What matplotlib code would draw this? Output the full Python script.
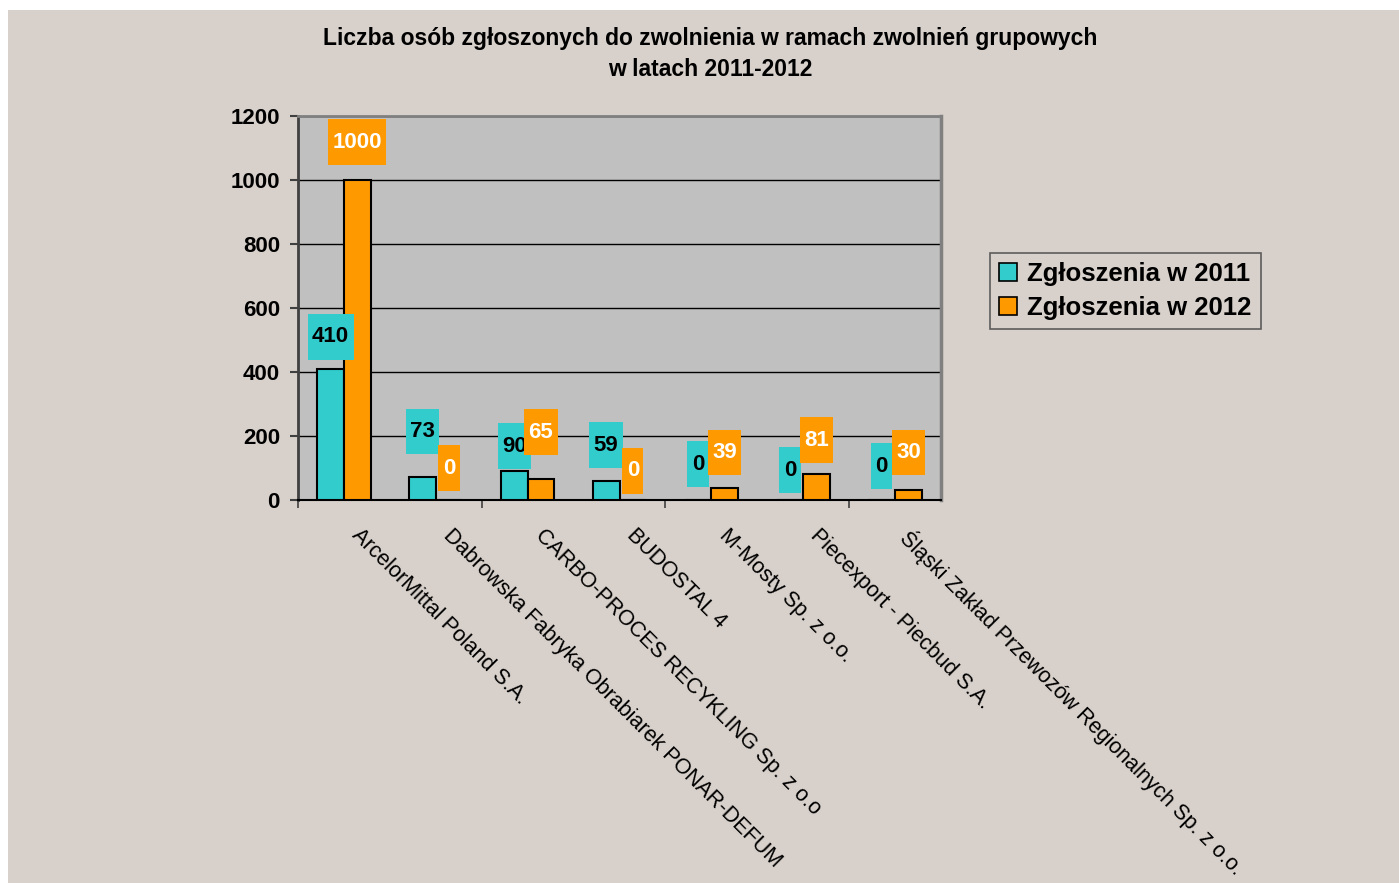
import numpy as np
import matplotlib
matplotlib.use("Agg")
import matplotlib.pyplot as plt
from matplotlib.patches import Rectangle, Patch
from matplotlib.path import Path
from matplotlib.transforms import ScaledTranslation

plt.rcParams["font.family"] = ["Liberation Sans", "DejaVu Sans"]

# data
companies = [
    "ArcelorMittal Poland S.A.",
    "Dabrowska Fabryka Obrabiarek PONAR-DEFUM",
    "CARBO-PROCES RECYKLING Sp. z o.o",
    "BUDOSTAL 4",
    "M-Mosty Sp. z o.o.",
    "Piecexport - Piecbud S.A.",
    "Śląski Zakład Przewozów Regionalnych Sp. z o.o.",
]
values_2011 = [410, 73, 90, 59, 0, 0, 0]
values_2012 = [1000, 0, 65, 0, 39, 81, 30]
series_names = ["Zgłoszenia w 2011", "Zgłoszenia w 2012"]
title = "Liczba osób zgłoszonych do zwolnienia w ramach zwolnień grupowych\nw latach 2011-2012"

# label box offsets above bar tops (pixels), as placed in the original
label_off_2011 = [32, 45, 25, 36, 36, 30, 34]
label_off_2012 = [38, 32, 47, 29, 35, 34, 38]

TEAL = "#33CCCC"
ORANGE = "#FF9900"
BEIGE = "#D8D0CA"
PLOT_BG = "#C0C0C0"


def tall_box(x0, y0, width, height, mutation_size):
    # excel style label box: narrow at the sides, tall above and below
    px = 0.2 * mutation_size
    py = 0.55 * mutation_size
    x0, y0 = x0 - px, y0 - py
    x1, y1 = x0 + width + 2 * px, y0 + height + 2 * py
    return Path([(x0, y0), (x1, y0), (x1, y1), (x0, y1), (x0, y0)], closed=True)


W, H = 1399, 883
fig = plt.figure(figsize=(W / 100, H / 100), dpi=100, facecolor="white")
fig.patches.append(Rectangle((8 / W, 0), 1, 1 - 10 / H, transform=fig.transFigure,
                             facecolor=BEIGE, edgecolor="none", zorder=-10))

ax = fig.add_axes([298 / W, 1 - 500 / H, 643 / W, 384 / H])
ax.set_facecolor(PLOT_BG)

x = np.arange(len(companies))
bw = 0.29
b1 = ax.bar(x - bw / 2, values_2011, bw, color=TEAL, edgecolor="black", linewidth=1.5, zorder=3)
b2 = ax.bar(x + bw / 2, values_2012, bw, color=ORANGE, edgecolor="black", linewidth=1.5, zorder=3)

for xi, v, off in zip(x - bw / 2, values_2011, label_off_2011):
    ax.annotate(str(v), (xi, v), xytext=(0, off * 0.72), textcoords="offset points",
                ha="center", va="center", fontsize=16, weight="bold", color="black",
                bbox=dict(boxstyle=tall_box, facecolor=TEAL, edgecolor="none"), zorder=5)
for xi, v, off in zip(x + bw / 2, values_2012, label_off_2012):
    ax.annotate(str(v), (xi, v), xytext=(0, off * 0.72), textcoords="offset points",
                ha="center", va="center", fontsize=16, weight="bold", color="white",
                bbox=dict(boxstyle=tall_box, facecolor=ORANGE, edgecolor="none"), zorder=5)

ax.set_xlim(-0.5, len(companies) - 0.5)
ax.set_ylim(0, 1200)
ax.set_yticks(np.arange(0, 1201, 200))
ax.yaxis.grid(True, color="black", linewidth=1)
ax.set_axisbelow(True)
ax.tick_params(axis="y", direction="out", length=6, width=1.5, color="#404040",
               labelsize=16, pad=7)
for lab in ax.get_yticklabels():
    lab.set_fontweight("bold")

ax.set_xticks(x)
ax.set_xticklabels(companies, rotation=-45, ha="left", va="top",
                   rotation_mode="anchor", fontsize=15.5)
ax.tick_params(axis="x", which="major", length=0, pad=18)
shift = ScaledTranslation(0.18, 0, fig.dpi_scale_trans)
for lab in ax.get_xticklabels():
    lab.set_transform(lab.get_transform() + shift)
ax.set_xticks(np.arange(-0.5, len(companies) - 0.5, 2), minor=True)
ax.tick_params(axis="x", which="minor", length=6, width=1.2, color="#404040")

ax.spines["left"].set_color("#404040")
ax.spines["left"].set_linewidth(2)
ax.spines["bottom"].set_color("black")
ax.spines["bottom"].set_linewidth(1.5)
ax.spines["top"].set_color("#808080")
ax.spines["top"].set_linewidth(2)
ax.spines["right"].set_color("#808080")
ax.spines["right"].set_linewidth(2.5)

fig.text(710 / W, 1 - 54 / H, title, ha="center", va="center", fontsize=16.5,
         weight="bold", linespacing=1.45)

handles = [Patch(facecolor=TEAL, edgecolor="black", linewidth=1.2),
           Patch(facecolor=ORANGE, edgecolor="black", linewidth=1.2)]
leg = fig.legend(handles, series_names, loc="upper left",
                 bbox_to_anchor=(990 / W, 1 - 253 / H), frameon=True, fancybox=False,
                 prop=dict(size=18.5, weight="bold"), handlelength=0.7, handleheight=0.7,
                 handletextpad=0.4, borderpad=0.35, labelspacing=0.4, borderaxespad=0)
leg.get_frame().set_facecolor(BEIGE)
leg.get_frame().set_edgecolor("#404040")
leg.get_frame().set_linewidth(1.2)

fig.savefig("out.png", dpi=100, facecolor=fig.get_facecolor())
